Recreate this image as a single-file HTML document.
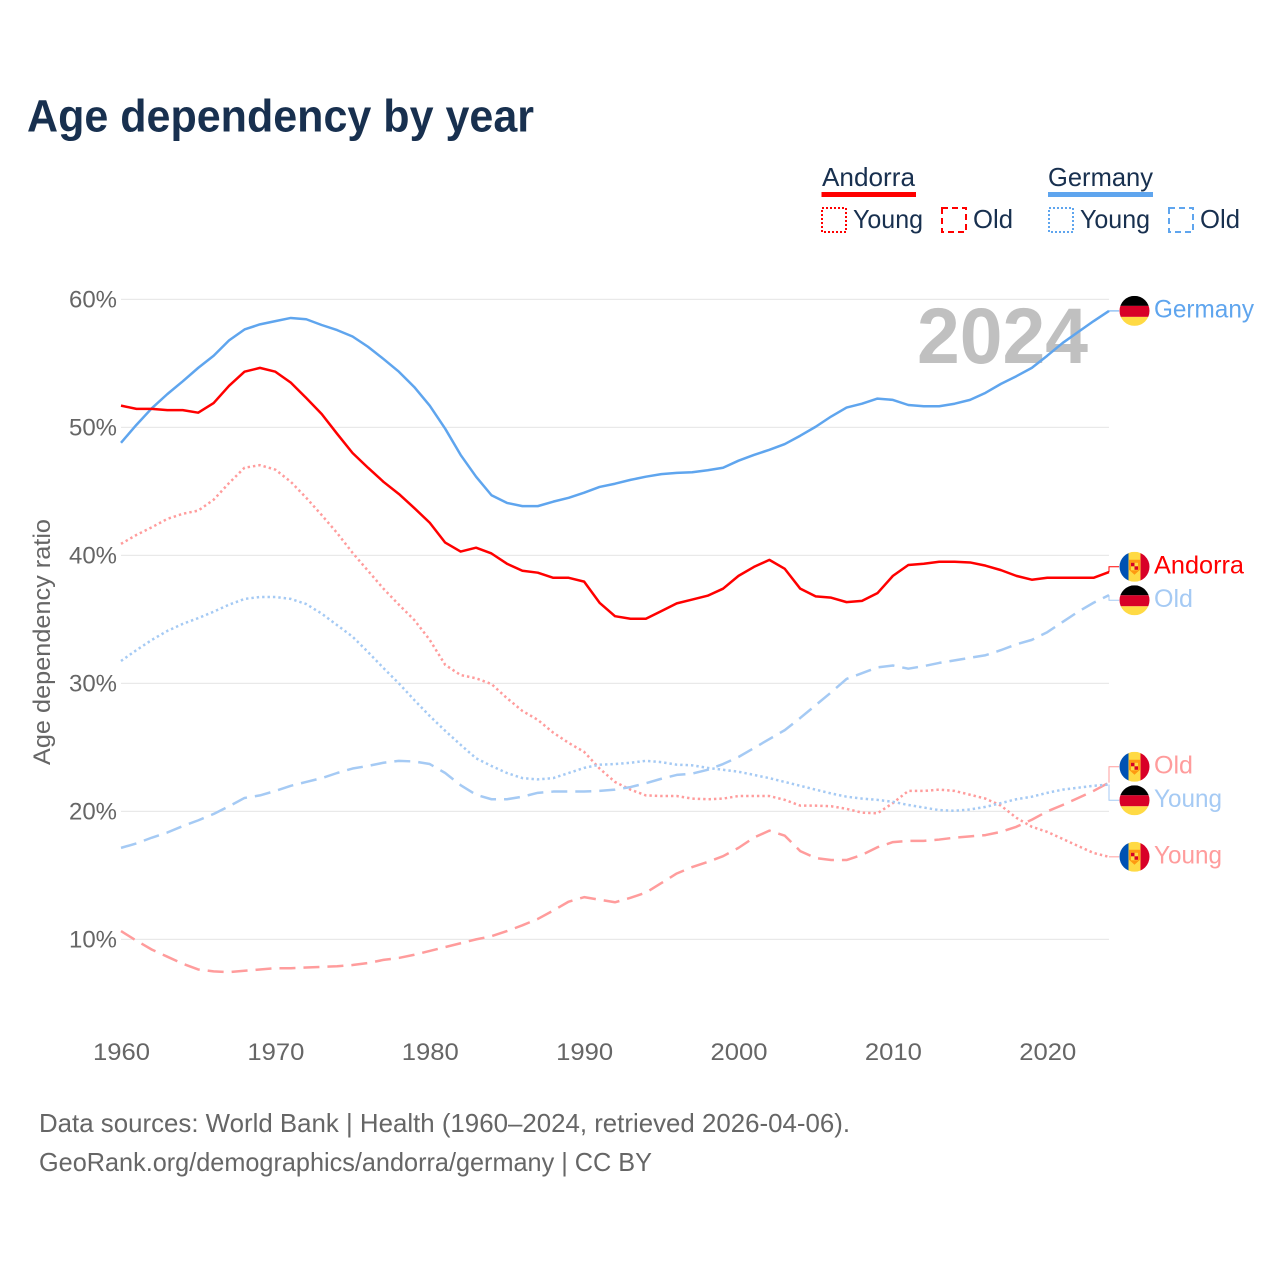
<!DOCTYPE html>
<html lang="en">
<head>
<meta charset="utf-8">
<title>Age dependency by year</title>
<style>
html,body{margin:0;padding:0;background:#fff;width:1280px;height:1280px;overflow:hidden}
svg{display:block;font-family:"Liberation Sans",sans-serif}
</style>
</head>
<body>
<svg id="chart" width="1280" height="1280" viewBox="0 0 1280 1280" xmlns="http://www.w3.org/2000/svg">
  <rect width="1280" height="1280" fill="#fff"/>
  <text x="27" y="131.5" font-size="45" font-weight="700" fill="#18304f" textLength="507" lengthAdjust="spacingAndGlyphs">Age dependency by year</text>

  <g font-size="26" fill="#18304f">
    <text x="822" y="186" textLength="93" lengthAdjust="spacingAndGlyphs">Andorra</text>
    <rect x="821.5" y="192" width="94.5" height="5" fill="#ff0000"/>
    <text x="1048" y="186" textLength="105" lengthAdjust="spacingAndGlyphs">Germany</text>
    <rect x="1048" y="192" width="105" height="5" fill="#5fa5ee"/>
    <rect x="822" y="208" width="24" height="24" fill="none" stroke="#ff0000" stroke-width="2" stroke-dasharray="2 2"/>
    <text x="853" y="228" textLength="70" lengthAdjust="spacingAndGlyphs">Young</text>
    <rect x="942" y="208" width="24" height="24" fill="none" stroke="#ff0000" stroke-width="2" stroke-dasharray="6 4"/>
    <text x="973" y="228" textLength="40" lengthAdjust="spacingAndGlyphs">Old</text>
    <rect x="1049" y="208" width="24" height="24" fill="none" stroke="#5fa5ee" stroke-width="2" stroke-dasharray="2 2"/>
    <text x="1080" y="228" textLength="70" lengthAdjust="spacingAndGlyphs">Young</text>
    <rect x="1169" y="208" width="24" height="24" fill="none" stroke="#5fa5ee" stroke-width="2" stroke-dasharray="6 4"/>
    <text x="1200" y="228" textLength="40" lengthAdjust="spacingAndGlyphs">Old</text>
  </g>

  <g id="grid"></g>
  <g id="yticks"></g>
  <g id="xticks"></g>
  <text transform="translate(50 765) rotate(-90)" font-size="24" fill="#666" textLength="246" lengthAdjust="spacingAndGlyphs">Age dependency ratio</text>
  <text x="917" y="363" font-size="79" font-weight="700" fill="#c0c0c0" textLength="171" lengthAdjust="spacingAndGlyphs">2024</text>
  <g id="series"></g>
  <g id="endlabels"></g>

  <g font-size="26" fill="#666">
    <text x="39" y="1132" textLength="811" lengthAdjust="spacingAndGlyphs">Data sources: World Bank | Health (1960–2024, retrieved 2026-04-06).</text>
    <text x="39" y="1171" textLength="613" lengthAdjust="spacingAndGlyphs">GeoRank.org/demographics/andorra/germany | CC BY</text>
  </g>
</svg>
<script>
const startYear = 1960;
const xTickLabels = ["1960","1970","1980","1990","2000","2010","2020"];
const yTickValues = [10,20,30,40,50,60];
const germanyTotal = [48.8,50.2,51.5,52.6,53.6,54.65,55.6,56.8,57.65,58.05,58.3,58.55,58.45,58.0,57.6,57.1,56.3,55.35,54.35,53.15,51.7,49.9,47.85,46.15,44.7,44.1,43.85,43.85,44.2,44.5,44.9,45.35,45.6,45.9,46.15,46.35,46.45,46.5,46.65,46.85,47.4,47.85,48.25,48.7,49.35,50.05,50.85,51.55,51.85,52.25,52.15,51.75,51.65,51.65,51.85,52.15,52.7,53.4,54.0,54.65,55.6,56.6,57.45,58.3,59.1];
const andorraTotal = [51.7,51.45,51.45,51.35,51.35,51.15,51.9,53.25,54.35,54.65,54.35,53.5,52.3,51.05,49.5,48.0,46.85,45.75,44.8,43.7,42.55,41.0,40.3,40.6,40.15,39.35,38.8,38.65,38.25,38.25,37.95,36.3,35.25,35.05,35.05,35.65,36.25,36.55,36.85,37.4,38.4,39.1,39.65,38.95,37.4,36.8,36.7,36.35,36.45,37.05,38.4,39.25,39.35,39.5,39.5,39.45,39.2,38.85,38.4,38.1,38.25,38.25,38.25,38.25,38.7];
const andorraYoung = [40.9,41.6,42.2,42.85,43.25,43.5,44.35,45.65,46.85,47.05,46.7,45.75,44.5,43.15,41.75,40.2,38.8,37.4,36.15,34.95,33.4,31.45,30.65,30.4,29.95,28.85,27.85,27.15,26.15,25.35,24.65,23.35,22.3,21.7,21.25,21.2,21.2,21.0,20.95,21.0,21.2,21.2,21.2,20.9,20.45,20.45,20.4,20.2,19.9,19.85,20.65,21.6,21.6,21.7,21.6,21.3,21.0,20.45,19.5,18.8,18.4,17.85,17.3,16.75,16.45];
const andorraOld = [10.65,9.9,9.2,8.65,8.1,7.65,7.5,7.45,7.55,7.65,7.75,7.75,7.8,7.85,7.9,8.0,8.15,8.4,8.55,8.8,9.1,9.4,9.7,10.0,10.25,10.65,11.1,11.6,12.25,12.95,13.3,13.1,12.9,13.25,13.65,14.4,15.15,15.65,16.05,16.5,17.15,17.95,18.5,18.1,16.9,16.35,16.2,16.2,16.6,17.2,17.6,17.7,17.7,17.8,17.95,18.05,18.15,18.4,18.8,19.35,20.0,20.5,21.05,21.6,22.25];
const germanyYoung = [31.75,32.6,33.4,34.1,34.65,35.1,35.6,36.15,36.6,36.75,36.75,36.6,36.2,35.45,34.55,33.65,32.45,31.2,30.0,28.7,27.45,26.3,25.2,24.15,23.55,23.0,22.6,22.5,22.6,23.0,23.4,23.65,23.7,23.8,23.95,23.85,23.65,23.6,23.4,23.25,23.1,22.85,22.6,22.3,22.0,21.7,21.4,21.15,21.0,20.9,20.75,20.5,20.3,20.1,20.05,20.15,20.35,20.65,20.95,21.15,21.45,21.7,21.85,22.0,22.1];
const germanyOld = [17.15,17.5,17.95,18.35,18.85,19.3,19.8,20.4,21.05,21.25,21.6,22.0,22.3,22.6,23.0,23.35,23.55,23.8,23.95,23.9,23.7,23.0,22.05,21.3,20.95,20.95,21.15,21.45,21.55,21.55,21.55,21.6,21.7,21.9,22.2,22.55,22.85,22.95,23.25,23.7,24.25,24.95,25.65,26.35,27.3,28.3,29.3,30.35,30.8,31.25,31.4,31.15,31.35,31.6,31.8,32.0,32.2,32.6,33.05,33.4,34.0,34.8,35.6,36.3,36.9];

const NS = "http://www.w3.org/2000/svg";
function xAt(year){ return 121 + (year - startYear) * 15.4375; }
function yAt(v){ return 299.4 + (60 - v) * 12.8; }
function mk(tag, attrs, parent, txt){
  const el = document.createElementNS(NS, tag);
  for (const k in attrs) el.setAttribute(k, attrs[k]);
  if (txt !== undefined) el.textContent = txt;
  parent.appendChild(el);
  return el;
}

const grid = document.getElementById("grid");
const yticks = document.getElementById("yticks");
const xticks = document.getElementById("xticks");
yTickValues.forEach(function(v){
  const line = mk("line", {x1:xAt(startYear), x2:xAt(2024), y1:yAt(v), y2:yAt(v), stroke:"#e9e9e9", "stroke-width":1.2}, grid);
  
  
  const t = mk("text", {x:69, y:yAt(v)+8, "font-size":24, fill:"#666", textLength:48, lengthAdjust:"spacingAndGlyphs"}, yticks, v + "%");
  
  
});
xTickLabels.forEach(function(lbl){
  const t = mk("text", {x:xAt(+lbl)-28, y:1060, "font-size":24, fill:"#666", textLength:57, lengthAdjust:"spacingAndGlyphs"}, xticks, lbl);
  
  
});

const seriesDefs = [
  {key:"andorra-young", label:"Young", flag:"ad", vals:andorraYoung, color:"#ff9c9c", w:2.5, dash:"2.4 3"},
  {key:"andorra-old", label:"Old", flag:"ad", vals:andorraOld, color:"#ff9c9c", w:2.5, dash:"16 8"},
  {key:"germany-young", label:"Young", flag:"de", vals:germanyYoung, color:"#a5caf4", w:2.5, dash:"2.4 3"},
  {key:"germany-old", label:"Old", flag:"de", vals:germanyOld, color:"#a5caf4", w:2.5, dash:"16 8"},
  {key:"germany-total", label:"Germany", flag:"de", vals:germanyTotal, color:"#5fa5ee", w:2.5, dash:""},
  {key:"andorra-total", label:"Andorra", flag:"ad", vals:andorraTotal, color:"#ff0000", w:2.5, dash:""}
];
const labelWidths = {Germany:100, Andorra:90, Old:39, Young:68};

const seriesG = document.getElementById("series");
seriesDefs.forEach(function(s){
  const pts = s.vals.map(function(v,i){ return xAt(startYear+i).toFixed(2) + "," + yAt(v).toFixed(2); }).join(" ");
  const p = mk("polyline", {points:pts, fill:"none", stroke:s.color, "stroke-width":s.w, "stroke-linejoin":"round"}, seriesG);
  if (s.dash) p.setAttribute("stroke-dasharray", s.dash);
  
  
});

// end-label layout: stack labels that would overlap around their mean position
const sep = 33.5;
const sorted = seriesDefs.map(function(s){
  return {s:s, end:yAt(s.vals[s.vals.length-1])};
}).sort(function(a,b){ return a.end-b.end; });
let clusters = sorted.map(function(o){ return {items:[o], mean:o.end}; });
let merged = true;
while (merged) {
  merged = false;
  for (let i=0; i<clusters.length-1; i++) {
    const a = clusters[i], b = clusters[i+1];
    if (a.mean + (a.items.length-1)*sep/2 + sep > b.mean - (b.items.length-1)*sep/2) {
      const items = a.items.concat(b.items);
      const mean = items.reduce(function(t,o){ return t+o.end; },0)/items.length;
      clusters.splice(i,2,{items:items, mean:mean});
      merged = true;
      break;
    }
  }
}
const endG = document.getElementById("endlabels");
const defs = mk("defs", {}, endG);
mk("circle", {cx:0, cy:0, r:15}, mk("clipPath", {id:"flag-clip"}, defs));
function drawFlag(kind, cy, parent){
  const g = mk("g", {transform:"translate(1134.5 " + cy.toFixed(1) + ")", "clip-path":"url(#flag-clip)"}, parent);
  
  
  if (kind === "de") {
    mk("rect", {x:-15, y:-15, width:30, height:10, fill:"#000"}, g);
    mk("rect", {x:-15, y:-5, width:30, height:11, fill:"#d80027"}, g);
    mk("rect", {x:-15, y:6, width:30, height:9, fill:"#ffda44"}, g);
  } else {
    mk("rect", {x:-15, y:-15, width:9, height:30, fill:"#0052b4"}, g);
    mk("rect", {x:-6, y:-15, width:12, height:30, fill:"#ffda44"}, g);
    mk("rect", {x:6, y:-15, width:9, height:30, fill:"#d80027"}, g);
    mk("path", {d:"M-5.5,-7 H5.5 V3 L0,8 L-5.5,3 Z", fill:"#ff9811"}, g);
    mk("rect", {x:-3.5, y:-4, width:7, height:7.5, fill:"#ffda44"}, g);
    mk("rect", {x:-3.5, y:-4, width:3.5, height:3.5, fill:"#d80027"}, g);
    mk("rect", {x:0, y:-0.5, width:3.5, height:3.5, fill:"#d80027"}, g);
  }
}
clusters.forEach(function(c){
  c.items.forEach(function(o,i){
    const ly = c.mean + (i - (c.items.length-1)/2)*sep;
    const s = o.s;
    const conn = mk("polyline", {points:xAt(2024)+","+o.end.toFixed(2)+" "+xAt(2024)+","+ly.toFixed(2)+" 1119,"+ly.toFixed(2), fill:"none", stroke:s.color, "stroke-width":1}, endG);
    
    
    drawFlag(s.flag, ly, endG);
    const t = mk("text", {x:1154, y:(ly+6.5).toFixed(1), "font-size":25, fill:s.color, textLength:labelWidths[s.label], lengthAdjust:"spacingAndGlyphs"}, endG, s.label);
    
    
  });
});
</script>
</body>
</html>
